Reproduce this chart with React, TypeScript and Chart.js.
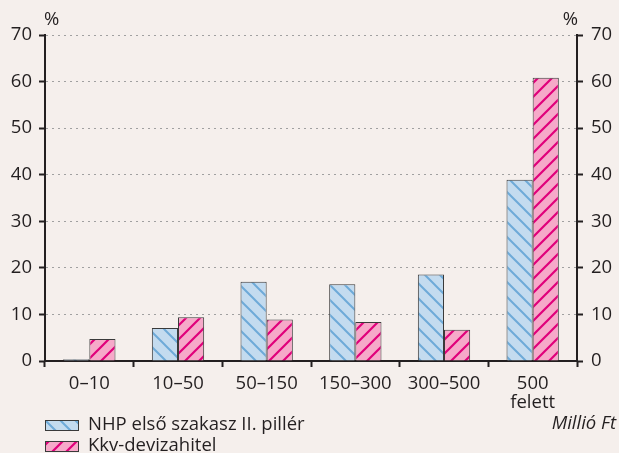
import React, { useEffect, useRef } from "react";
import { Chart, registerables } from "chart.js";

Chart.register(...registerables);

const categories: (string | string[])[] = ["0–10", "10–50", "50–150", "150–300", "300–500", ["500", "felett"]];
const nhpValues = [0.4, 7.1, 17.0, 16.5, 18.6, 38.9];
const kkvValues = [4.7, 9.4, 8.9, 8.4, 6.7, 60.8];
const seriesNames = ["NHP első szakasz II. pillér", "Kkv-devizahitel"];
const yTicks = [0, 10, 20, 30, 40, 50, 60, 70];
const unitLabel = "%";
const xUnitLabel = "Millió Ft";

const FONT = "'Open Sans', sans-serif";
const FS = 18.5;
const TEXT = "#231f20";
const BG = "#f5efec";

function makePattern(fill: string, stripe: string, size: number, width: number, backslash: boolean): CanvasPattern | string {
  const c = document.createElement("canvas");
  c.width = size;
  c.height = size;
  const g = c.getContext("2d");
  if (!g) return fill;
  g.fillStyle = fill;
  g.fillRect(0, 0, size, size);
  g.strokeStyle = stripe;
  g.lineWidth = width;
  g.beginPath();
  if (backslash) {
    g.moveTo(-size, 0); g.lineTo(size, 2 * size);
    g.moveTo(0, 0); g.lineTo(size, size);
    g.moveTo(0, -size); g.lineTo(2 * size, size);
  } else {
    g.moveTo(-size, size); g.lineTo(size, -size);
    g.moveTo(0, size); g.lineTo(size, 0);
    g.moveTo(0, 2 * size); g.lineTo(2 * size, 0);
  }
  g.stroke();
  const p = g.createPattern(c, "repeat");
  return p || fill;
}

export default function App() {
  const ref = useRef<HTMLCanvasElement | null>(null);
  useEffect(() => {
    document.body.style.margin = "0";
    const canvas = ref.current;
    if (!canvas) return;
    const bluePat = makePattern("#c3dbef", "#6eaad8", 15, 2, true);
    const pinkPat = makePattern("#f6a9c9", "#e0007b", 14, 2.2, false);

    const extras = {
      id: "extras",
      beforeDraw(chart: any) {
        const { ctx } = chart;
        ctx.save();
        ctx.fillStyle = BG;
        ctx.fillRect(0, 0, chart.width, chart.height);
        ctx.restore();
      },
      afterDraw(chart: any) {
        const { ctx, chartArea } = chart;
        ctx.save();
        ctx.fillStyle = TEXT;
        ctx.font = `${FS}px ${FONT}`;
        ctx.textBaseline = "middle";
        ctx.textAlign = "left";
        ctx.fillText(unitLabel, chartArea.left - 1, 20);
        ctx.textAlign = "right";
        ctx.fillText(unitLabel, chartArea.right + 1, 20);
        ctx.font = `italic ${FS}px ${FONT}`;
        ctx.fillText(xUnitLabel, 616, 424);
        // legend
        const pats = [bluePat, pinkPat];
        ctx.font = `${FS}px ${FONT}`;
        ctx.textAlign = "left";
        for (let i = 0; i < seriesNames.length; i++) {
          const y = 420 + i * 21;
          ctx.fillStyle = pats[i];
          ctx.fillRect(45, y, 34, 11);
          ctx.strokeStyle = "#3a3a3a";
          ctx.lineWidth = 1;
          ctx.strokeRect(45.5, y + 0.5, 33, 10);
          ctx.fillStyle = TEXT;
          ctx.fillText(seriesNames[i], 88, y + 5);
        }
        ctx.restore();
      },
    };

    const chart = new Chart(canvas, {
      type: "bar",
      data: {
        labels: categories,
        datasets: [
          {
            label: seriesNames[0],
            data: nhpValues,
            backgroundColor: bluePat as any,
            borderColor: "#3a3a3a",
            borderWidth: 1,
            categoryPercentage: 0.59,
            barPercentage: 1,
            yAxisID: "y",
          },
          {
            label: seriesNames[1],
            data: kkvValues,
            backgroundColor: pinkPat as any,
            borderColor: "#3a3a3a",
            borderWidth: 1,
            categoryPercentage: 0.59,
            barPercentage: 1,
            yAxisID: "y",
          },
        ],
      },
      plugins: [extras],
      options: {
        animation: false,
        responsive: false,
        devicePixelRatio: 1,
        layout: { padding: { top: 35, bottom: 42, left: 0, right: 0 } },
        plugins: { legend: { display: false }, tooltip: { enabled: false } },
        scales: {
          x: {
            offset: true,
            grid: {
              offset: true,
              drawOnChartArea: false,
              tickLength: 6,
              tickWidth: 2,
              tickColor: "#231f20",
            },
            border: { color: "#231f20", width: 2 },
            ticks: {
              color: TEXT,
              font: { family: FONT, size: FS, lineHeight: 1.05 },
              padding: 7,
              maxRotation: 0,
              autoSkip: false,
            },
            afterFit(scale: any) {
              scale.height = 50;
            },
          },
          y: {
            position: "left",
            min: 0,
            max: 70,
            afterBuildTicks(scale: any) {
              scale.ticks = yTicks.map((v) => ({ value: v }));
            },
            grid: {
              color: (c: any) => (c.tick && c.tick.value === 0 ? "rgba(0,0,0,0)" : "#a0a0a0"),
              lineWidth: 1,
              tickLength: 6,
              tickWidth: 2,
              tickColor: "#231f20",
            },
            border: { color: "#231f20", width: 2, dash: [2, 4] },
            ticks: {
              color: TEXT,
              font: { family: FONT, size: FS },
              padding: 7,
            },
            afterFit(scale: any) {
              scale.width = 45;
            },
          },
          y2: {
            position: "right",
            min: 0,
            max: 70,
            afterBuildTicks(scale: any) {
              scale.ticks = yTicks.map((v) => ({ value: v }));
            },
            grid: {
              drawOnChartArea: false,
              tickLength: 6,
              tickWidth: 2,
              tickColor: "#231f20",
            },
            border: { color: "#231f20", width: 2 },
            ticks: {
              color: TEXT,
              font: { family: FONT, size: FS },
              padding: 8,
            },
            afterFit(scale: any) {
              scale.width = 42;
            },
          },
        },
      },
    });
    return () => chart.destroy();
  }, []);
  return (
    <div style={{ position: "absolute", left: 0, top: 0, width: 619, height: 453, background: BG }}>
      <canvas ref={ref} width={619} height={453} style={{ width: 619, height: 453, display: "block" }} />
    </div>
  );
}
